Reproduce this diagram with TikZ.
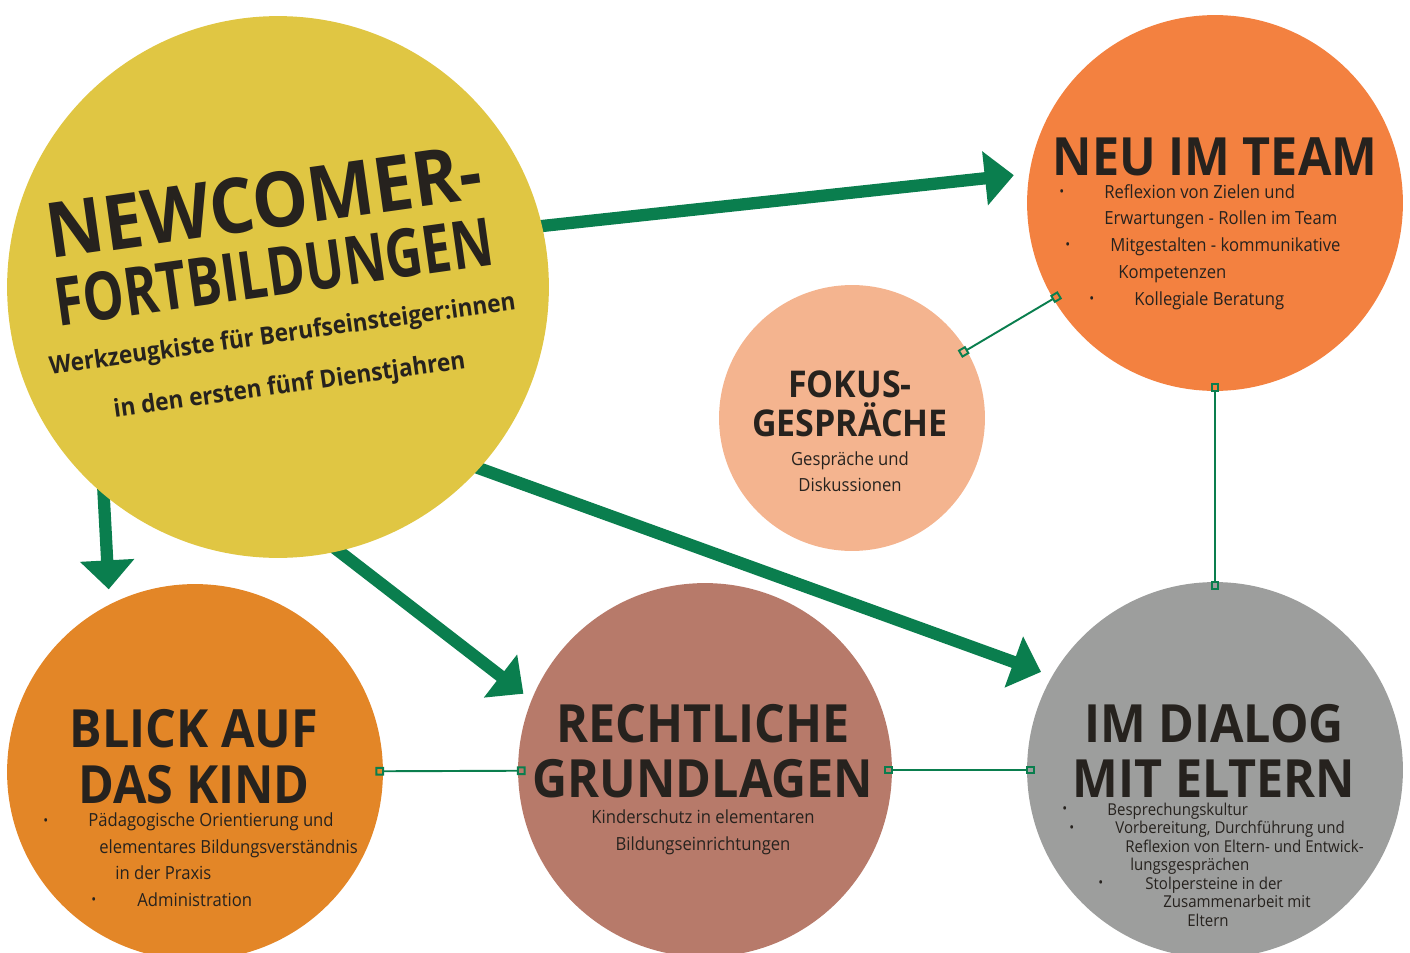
\documentclass[tikz,border=0pt]{standalone}
\usepackage{graphicx}
\usepackage{fontspec}
\setmainfont{Open Sans}[FakeStretch=0.92]
\usetikzlibrary{arrows.meta}
\usetikzlibrary{backgrounds}

\definecolor{kistengelb}{RGB}{224,198,67}
\definecolor{teamorange}{RGB}{243,129,64}
\definecolor{fokuslachs}{RGB}{244,180,143}
\definecolor{kindorange}{RGB}{227,134,39}
\definecolor{rechtbraun}{RGB}{183,122,106}
\definecolor{elterngrau}{RGB}{157,158,157}
\definecolor{pfeilgruen}{RGB}{10,126,78}
\definecolor{schrift}{RGB}{38,34,30}

\newlength\pxlen
\setlength\pxlen{0.02cm}
\newcommand{\punkt}[3]{\makebox[0pt][l]{\hspace*{#1\pxlen}\raisebox{0.2ex}{\fontsize{8}{8}\selectfont\textbullet}}\hspace*{#2\pxlen}#3}
\newcommand{\zeile}[2]{\hspace*{#1\pxlen}#2}

\begin{document}
\begin{tikzpicture}[x=0.02cm, y=-0.02cm,
    kreis/.style={circle, inner sep=0pt, minimum size=#1*0.04cm},
    pfeil/.style={-{Triangle[length=16.5pt,width=30pt]}, line width=7pt, draw=pfeilgruen},
    verbinder/.style={{Square[open,length=5pt,width=5pt]}-{Square[open,length=5pt,width=5pt]},
        line width=1.1pt, draw=pfeilgruen, shorten <=-4.5pt, shorten >=-4.5pt},
    titel/.style={font=\bfseries\fontsize{30}{31}\selectfont, text=schrift, anchor=base, inner sep=0pt},
    gross/.style={font=\bfseries\fontsize{43.5}{44}\selectfont, text=schrift, anchor=base, rotate=8, inner sep=0pt},
    untertitel/.style={font=\bfseries\fontsize{14}{15}\selectfont, text=schrift, anchor=base, rotate=8, inner sep=0pt},
    liste/.style={font=\fontsize{10.3}{15.2}\selectfont, text=schrift, align=left, anchor=base west, inner sep=0pt},
    klein/.style={font=\fontsize{10.3}{14.8}\selectfont, text=schrift, align=center, anchor=base, inner sep=0pt}]

  \useasboundingbox (0,0) rectangle (1410,953);
  \clip (0,0) rectangle (1410,953);

  % die Kreise
  \node[kreis=271, fill=kistengelb] (newcomer) at (278,287) {};
  \node[kreis=188, fill=teamorange] (team) at (1215,203) {};
  \node[kreis=133, fill=fokuslachs] (fokus) at (852,418) {};
  \node[kreis=188, fill=kindorange] (kind) at (195,772) {};
  \node[kreis=187, fill=rechtbraun] (recht) at (705,770) {};
  \node[kreis=188, fill=elterngrau] (eltern) at (1215,770) {};

  % Pfeile vom grossen Kreis
  \begin{scope}[on background layer]
    \draw[pfeil, shorten <=-8pt, shorten >=8.7pt] (newcomer.13.3) -- (team.171.2);
    \draw[pfeil, shorten <=-8pt, shorten >=8.5pt] (newcomer.230) -- (kind.117);
    \draw[pfeil, shorten <=-8pt, shorten >=5.7pt] (newcomer.283) -- (recht.158.2);
    \draw[pfeil, shorten <=-8pt, shorten >=6.6pt] (newcomer.318.6) -- (eltern.150.9);
  \end{scope}

  % Verbindungen
  \draw[verbinder] (fokus) -- (team);
  \draw[verbinder] (kind) -- (recht);
  \draw[verbinder] (recht) -- (eltern);
  \draw[verbinder] (team) -- (eltern);

  % Texte
  \node[gross] (t-newcomer) at (267.7,228.5) {NEWCOMER-};
  \node[gross, font=\bfseries\fontsize{38}{40}\selectfont] (t-fortbildungen) at (277.1,295.6) {\scalebox{0.84}[1]{FORTBILDUNGEN}};
  \node[untertitel] (t-werkzeug) at (283.5,341.9) {Werkzeugkiste für Berufseinsteiger:innen};
  \node[untertitel] (t-jahre) at (290.5,392.8) {in den ersten fünf Dienstjahren};

  \node[titel] (t-team) at (1215,175) {NEU IM TEAM};
  \node[liste] (l-team) at (1059,305) {\punkt{0}{45}{Reflexion von Zielen und}\\
    \zeile{45}{Erwartungen - Rollen im Team}\\
    \punkt{6}{51}{Mitgestalten - kommunikative}\\
    \zeile{59}{Kompetenzen}\\
    \punkt{30}{75}{Kollegiale Beratung}};

  \node[titel, font=\bfseries\fontsize{21}{22}\selectfont] (t-fokus1) at (850,397) {FOKUS-};
  \node[titel, font=\bfseries\fontsize{21}{22}\selectfont] (t-fokus2) at (850,436) {GESPRÄCHE};
  \node[klein] (t-fokus3) at (850,491) {Gespräche und\\Diskussionen};

  \node[titel] (t-kind1) at (194,747) {BLICK AUF};
  \node[titel] (t-kind2) at (194,803) {DAS KIND};
  \node[liste, font=\fontsize{10.3}{15}\selectfont] (l-kind) at (43,906) {\punkt{0}{45}{Pädagogische Orientierung und}\\
    \zeile{56}{elementares Bildungsverständnis}\\
    \zeile{72}{in der Praxis}\\
    \punkt{48}{94}{Administration}};

  \node[titel] (t-recht1) at (703,742) {RECHTLICHE};
  \node[titel] (t-recht2) at (703,797) {GRUNDLAGEN};
  \node[klein, font=\fontsize{10.3}{15.3}\selectfont] (t-recht3) at (703,850) {Kinderschutz in elementaren\\Bildungseinrichtungen};

  \node[titel] (t-eltern1) at (1214,742) {IM DIALOG};
  \node[titel] (t-eltern2) at (1214,797) {MIT ELTERN};
  \node[liste, font=\fontsize{9.3}{10.5}\selectfont] (l-eltern) at (1062,926) {\punkt{0}{45}{Besprechungskultur}\\
    \punkt{7}{53}{Vorbereitung, Durchführung und}\\
    \zeile{63}{Reflexion von Eltern- und Entwick-}\\
    \zeile{68}{lungsgesprächen}\\
    \punkt{36}{83}{Stolpersteine in der}\\
    \zeile{101}{Zusammenarbeit mit}\\
    \zeile{125}{Eltern}};
\end{tikzpicture}
\end{document}
